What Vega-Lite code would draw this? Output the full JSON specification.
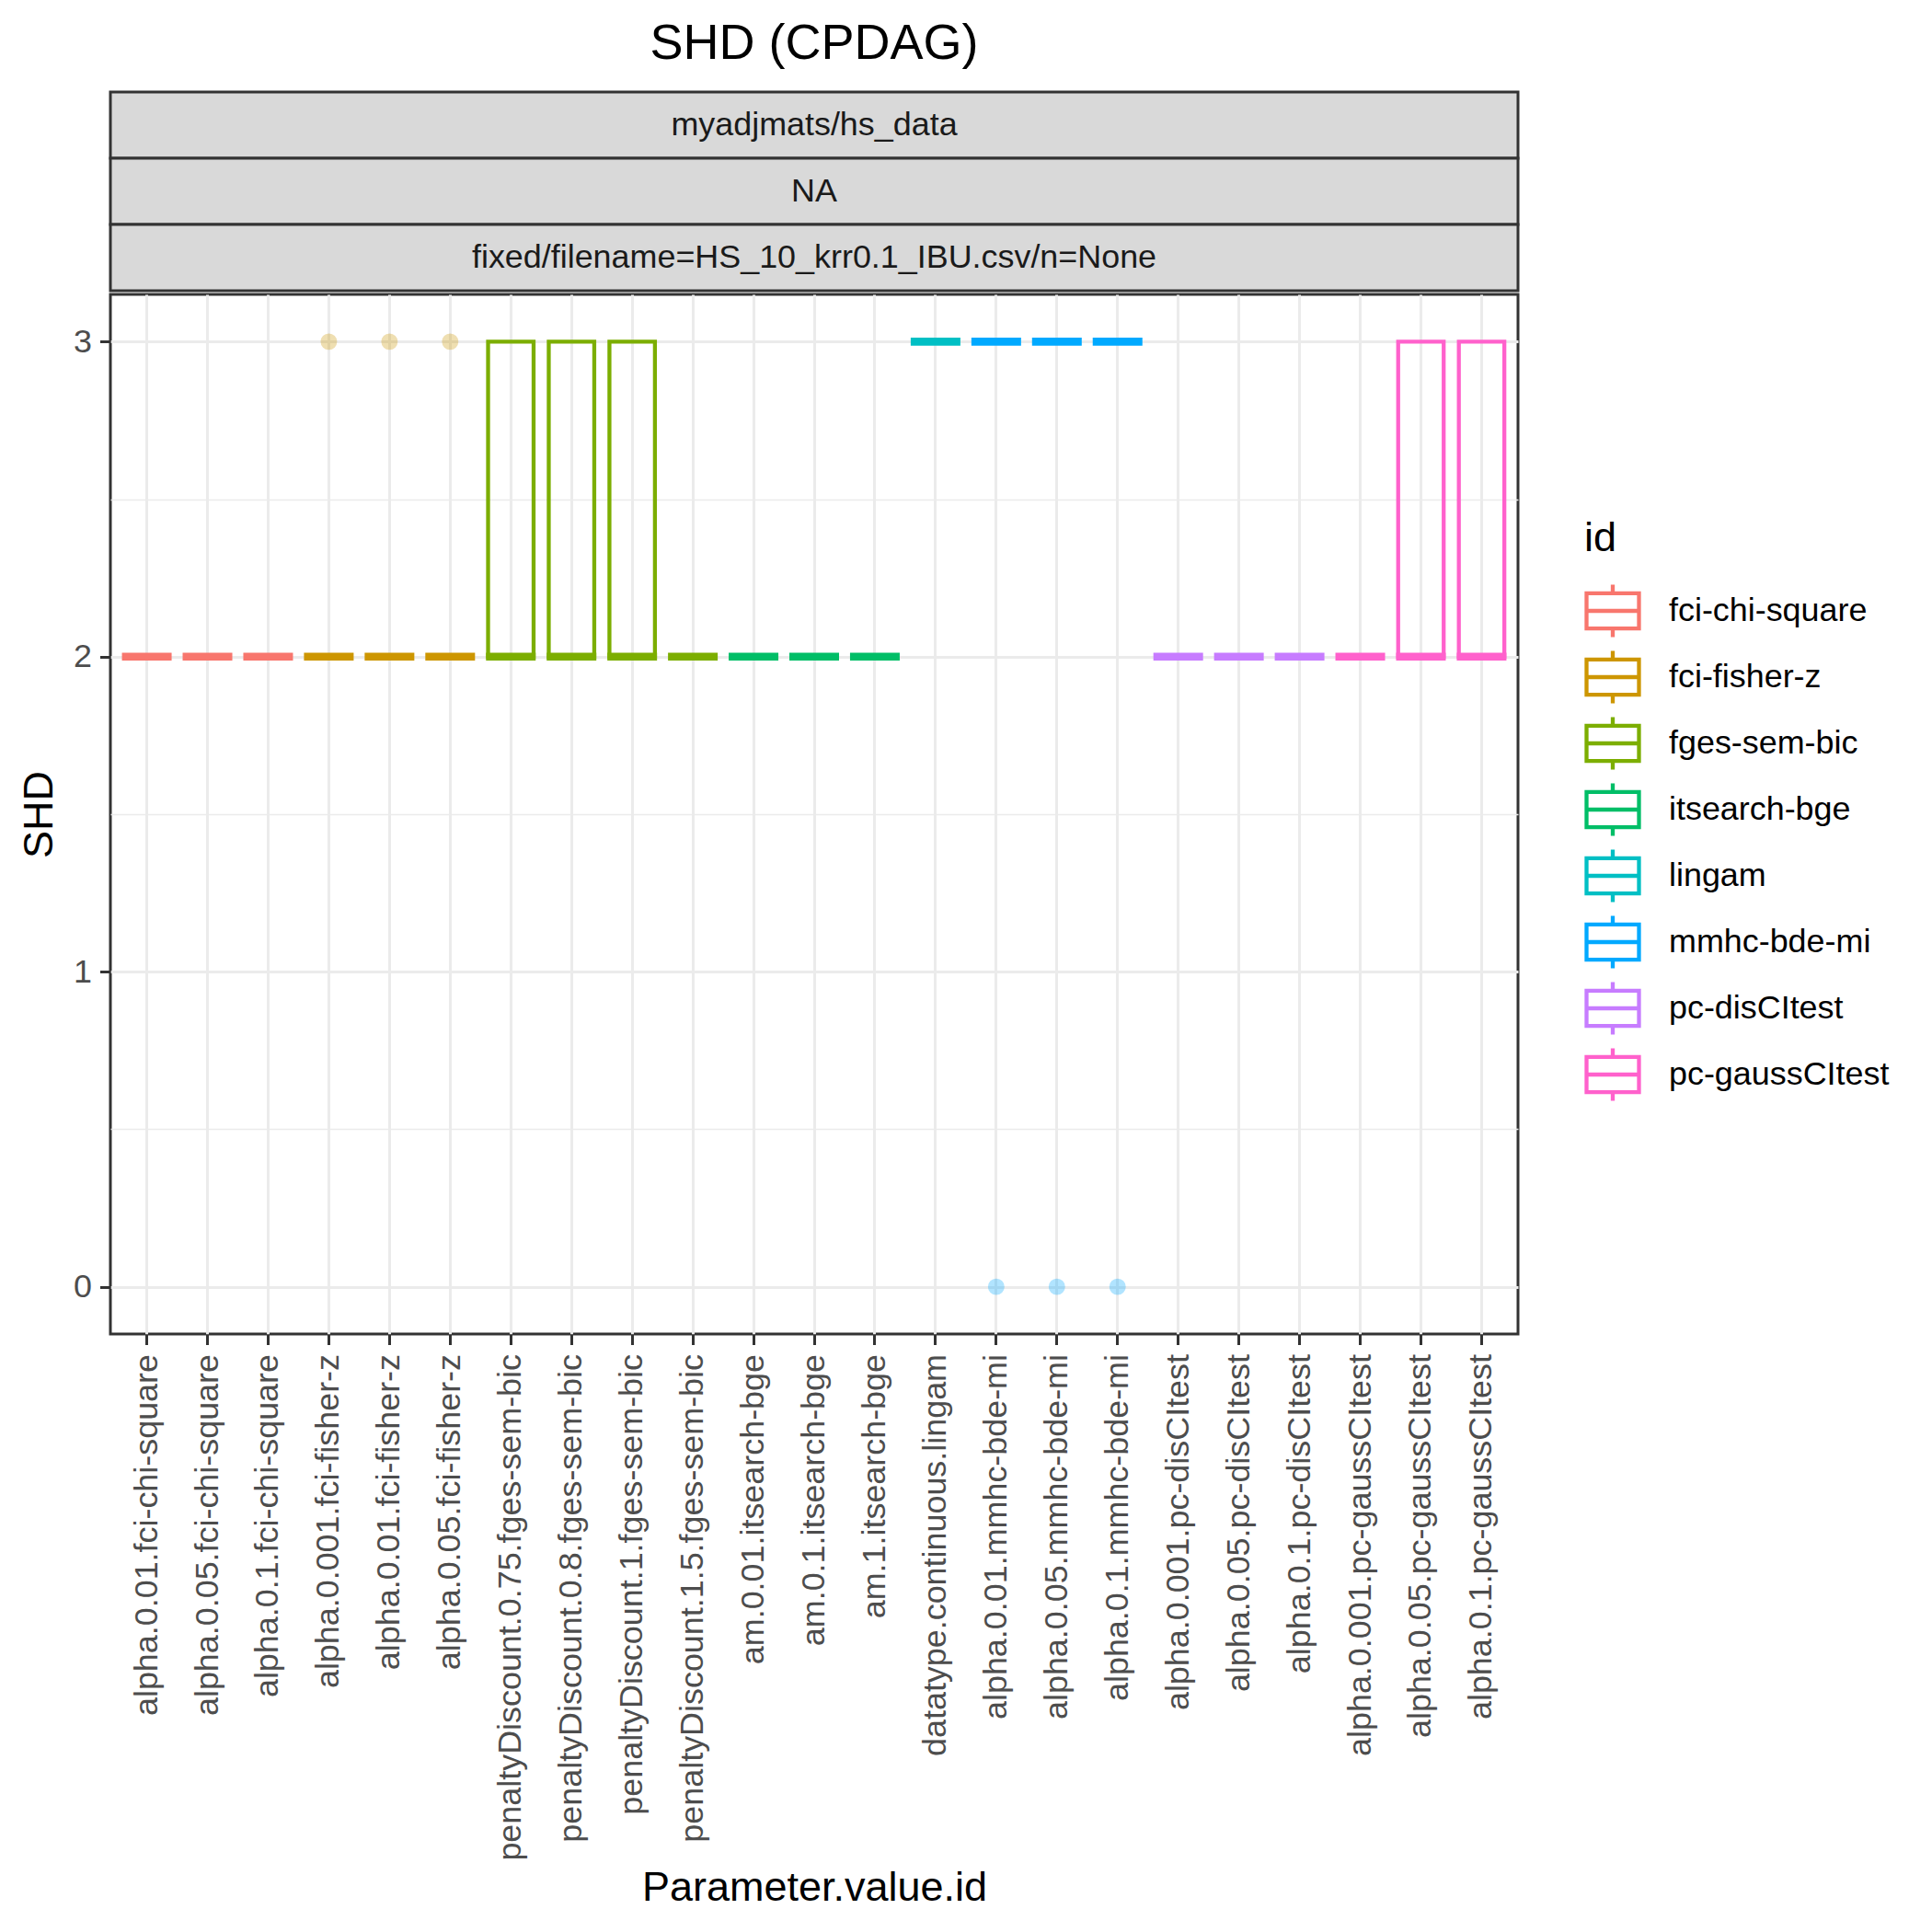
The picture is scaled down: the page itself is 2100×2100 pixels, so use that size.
{
  "$schema": "https://vega.github.io/schema/vega-lite/v6.json",
  "padding": {"left": 19, "top": 20, "right": 5, "bottom": 5},
  "background": "white",
  "config": {
    "font": "Liberation Sans",
    "view": {"stroke": null},
    "concat": {"spacing": 0}
  },
  "spacing": 0,
  "datasets": {
    "strips": [
      {"strip": "myadjmats/hs_data"},
      {"strip": "NA"},
      {"strip": "fixed/filename=HS_10_krr0.1_IBU.csv/n=None"}
    ],
    "shd": [
      {"param": "alpha.0.01.fci-chi-square", "id": "fci-chi-square", "SHD": 2},
      {"param": "alpha.0.01.fci-chi-square", "id": "fci-chi-square", "SHD": 2},
      {"param": "alpha.0.01.fci-chi-square", "id": "fci-chi-square", "SHD": 2},
      {"param": "alpha.0.01.fci-chi-square", "id": "fci-chi-square", "SHD": 2},
      {"param": "alpha.0.01.fci-chi-square", "id": "fci-chi-square", "SHD": 2},
      {"param": "alpha.0.05.fci-chi-square", "id": "fci-chi-square", "SHD": 2},
      {"param": "alpha.0.05.fci-chi-square", "id": "fci-chi-square", "SHD": 2},
      {"param": "alpha.0.05.fci-chi-square", "id": "fci-chi-square", "SHD": 2},
      {"param": "alpha.0.05.fci-chi-square", "id": "fci-chi-square", "SHD": 2},
      {"param": "alpha.0.05.fci-chi-square", "id": "fci-chi-square", "SHD": 2},
      {"param": "alpha.0.1.fci-chi-square", "id": "fci-chi-square", "SHD": 2},
      {"param": "alpha.0.1.fci-chi-square", "id": "fci-chi-square", "SHD": 2},
      {"param": "alpha.0.1.fci-chi-square", "id": "fci-chi-square", "SHD": 2},
      {"param": "alpha.0.1.fci-chi-square", "id": "fci-chi-square", "SHD": 2},
      {"param": "alpha.0.1.fci-chi-square", "id": "fci-chi-square", "SHD": 2},
      {"param": "alpha.0.001.fci-fisher-z", "id": "fci-fisher-z", "SHD": 2},
      {"param": "alpha.0.001.fci-fisher-z", "id": "fci-fisher-z", "SHD": 2},
      {"param": "alpha.0.001.fci-fisher-z", "id": "fci-fisher-z", "SHD": 2},
      {"param": "alpha.0.001.fci-fisher-z", "id": "fci-fisher-z", "SHD": 2},
      {"param": "alpha.0.001.fci-fisher-z", "id": "fci-fisher-z", "SHD": 3},
      {"param": "alpha.0.01.fci-fisher-z", "id": "fci-fisher-z", "SHD": 2},
      {"param": "alpha.0.01.fci-fisher-z", "id": "fci-fisher-z", "SHD": 2},
      {"param": "alpha.0.01.fci-fisher-z", "id": "fci-fisher-z", "SHD": 2},
      {"param": "alpha.0.01.fci-fisher-z", "id": "fci-fisher-z", "SHD": 2},
      {"param": "alpha.0.01.fci-fisher-z", "id": "fci-fisher-z", "SHD": 3},
      {"param": "alpha.0.05.fci-fisher-z", "id": "fci-fisher-z", "SHD": 2},
      {"param": "alpha.0.05.fci-fisher-z", "id": "fci-fisher-z", "SHD": 2},
      {"param": "alpha.0.05.fci-fisher-z", "id": "fci-fisher-z", "SHD": 2},
      {"param": "alpha.0.05.fci-fisher-z", "id": "fci-fisher-z", "SHD": 2},
      {"param": "alpha.0.05.fci-fisher-z", "id": "fci-fisher-z", "SHD": 3},
      {"param": "penaltyDiscount.0.75.fges-sem-bic", "id": "fges-sem-bic", "SHD": 2},
      {"param": "penaltyDiscount.0.75.fges-sem-bic", "id": "fges-sem-bic", "SHD": 2},
      {"param": "penaltyDiscount.0.75.fges-sem-bic", "id": "fges-sem-bic", "SHD": 2},
      {"param": "penaltyDiscount.0.75.fges-sem-bic", "id": "fges-sem-bic", "SHD": 3},
      {"param": "penaltyDiscount.0.75.fges-sem-bic", "id": "fges-sem-bic", "SHD": 3},
      {"param": "penaltyDiscount.0.8.fges-sem-bic", "id": "fges-sem-bic", "SHD": 2},
      {"param": "penaltyDiscount.0.8.fges-sem-bic", "id": "fges-sem-bic", "SHD": 2},
      {"param": "penaltyDiscount.0.8.fges-sem-bic", "id": "fges-sem-bic", "SHD": 2},
      {"param": "penaltyDiscount.0.8.fges-sem-bic", "id": "fges-sem-bic", "SHD": 3},
      {"param": "penaltyDiscount.0.8.fges-sem-bic", "id": "fges-sem-bic", "SHD": 3},
      {"param": "penaltyDiscount.1.fges-sem-bic", "id": "fges-sem-bic", "SHD": 2},
      {"param": "penaltyDiscount.1.fges-sem-bic", "id": "fges-sem-bic", "SHD": 2},
      {"param": "penaltyDiscount.1.fges-sem-bic", "id": "fges-sem-bic", "SHD": 2},
      {"param": "penaltyDiscount.1.fges-sem-bic", "id": "fges-sem-bic", "SHD": 3},
      {"param": "penaltyDiscount.1.fges-sem-bic", "id": "fges-sem-bic", "SHD": 3},
      {"param": "penaltyDiscount.1.5.fges-sem-bic", "id": "fges-sem-bic", "SHD": 2},
      {"param": "penaltyDiscount.1.5.fges-sem-bic", "id": "fges-sem-bic", "SHD": 2},
      {"param": "penaltyDiscount.1.5.fges-sem-bic", "id": "fges-sem-bic", "SHD": 2},
      {"param": "penaltyDiscount.1.5.fges-sem-bic", "id": "fges-sem-bic", "SHD": 2},
      {"param": "penaltyDiscount.1.5.fges-sem-bic", "id": "fges-sem-bic", "SHD": 2},
      {"param": "am.0.01.itsearch-bge", "id": "itsearch-bge", "SHD": 2},
      {"param": "am.0.01.itsearch-bge", "id": "itsearch-bge", "SHD": 2},
      {"param": "am.0.01.itsearch-bge", "id": "itsearch-bge", "SHD": 2},
      {"param": "am.0.01.itsearch-bge", "id": "itsearch-bge", "SHD": 2},
      {"param": "am.0.01.itsearch-bge", "id": "itsearch-bge", "SHD": 2},
      {"param": "am.0.1.itsearch-bge", "id": "itsearch-bge", "SHD": 2},
      {"param": "am.0.1.itsearch-bge", "id": "itsearch-bge", "SHD": 2},
      {"param": "am.0.1.itsearch-bge", "id": "itsearch-bge", "SHD": 2},
      {"param": "am.0.1.itsearch-bge", "id": "itsearch-bge", "SHD": 2},
      {"param": "am.0.1.itsearch-bge", "id": "itsearch-bge", "SHD": 2},
      {"param": "am.1.itsearch-bge", "id": "itsearch-bge", "SHD": 2},
      {"param": "am.1.itsearch-bge", "id": "itsearch-bge", "SHD": 2},
      {"param": "am.1.itsearch-bge", "id": "itsearch-bge", "SHD": 2},
      {"param": "am.1.itsearch-bge", "id": "itsearch-bge", "SHD": 2},
      {"param": "am.1.itsearch-bge", "id": "itsearch-bge", "SHD": 2},
      {"param": "datatype.continuous.lingam", "id": "lingam", "SHD": 3},
      {"param": "datatype.continuous.lingam", "id": "lingam", "SHD": 3},
      {"param": "datatype.continuous.lingam", "id": "lingam", "SHD": 3},
      {"param": "datatype.continuous.lingam", "id": "lingam", "SHD": 3},
      {"param": "datatype.continuous.lingam", "id": "lingam", "SHD": 3},
      {"param": "alpha.0.01.mmhc-bde-mi", "id": "mmhc-bde-mi", "SHD": 0},
      {"param": "alpha.0.01.mmhc-bde-mi", "id": "mmhc-bde-mi", "SHD": 3},
      {"param": "alpha.0.01.mmhc-bde-mi", "id": "mmhc-bde-mi", "SHD": 3},
      {"param": "alpha.0.01.mmhc-bde-mi", "id": "mmhc-bde-mi", "SHD": 3},
      {"param": "alpha.0.01.mmhc-bde-mi", "id": "mmhc-bde-mi", "SHD": 3},
      {"param": "alpha.0.05.mmhc-bde-mi", "id": "mmhc-bde-mi", "SHD": 0},
      {"param": "alpha.0.05.mmhc-bde-mi", "id": "mmhc-bde-mi", "SHD": 3},
      {"param": "alpha.0.05.mmhc-bde-mi", "id": "mmhc-bde-mi", "SHD": 3},
      {"param": "alpha.0.05.mmhc-bde-mi", "id": "mmhc-bde-mi", "SHD": 3},
      {"param": "alpha.0.05.mmhc-bde-mi", "id": "mmhc-bde-mi", "SHD": 3},
      {"param": "alpha.0.1.mmhc-bde-mi", "id": "mmhc-bde-mi", "SHD": 0},
      {"param": "alpha.0.1.mmhc-bde-mi", "id": "mmhc-bde-mi", "SHD": 3},
      {"param": "alpha.0.1.mmhc-bde-mi", "id": "mmhc-bde-mi", "SHD": 3},
      {"param": "alpha.0.1.mmhc-bde-mi", "id": "mmhc-bde-mi", "SHD": 3},
      {"param": "alpha.0.1.mmhc-bde-mi", "id": "mmhc-bde-mi", "SHD": 3},
      {"param": "alpha.0.001.pc-disCItest", "id": "pc-disCItest", "SHD": 2},
      {"param": "alpha.0.001.pc-disCItest", "id": "pc-disCItest", "SHD": 2},
      {"param": "alpha.0.001.pc-disCItest", "id": "pc-disCItest", "SHD": 2},
      {"param": "alpha.0.001.pc-disCItest", "id": "pc-disCItest", "SHD": 2},
      {"param": "alpha.0.001.pc-disCItest", "id": "pc-disCItest", "SHD": 2},
      {"param": "alpha.0.05.pc-disCItest", "id": "pc-disCItest", "SHD": 2},
      {"param": "alpha.0.05.pc-disCItest", "id": "pc-disCItest", "SHD": 2},
      {"param": "alpha.0.05.pc-disCItest", "id": "pc-disCItest", "SHD": 2},
      {"param": "alpha.0.05.pc-disCItest", "id": "pc-disCItest", "SHD": 2},
      {"param": "alpha.0.05.pc-disCItest", "id": "pc-disCItest", "SHD": 2},
      {"param": "alpha.0.1.pc-disCItest", "id": "pc-disCItest", "SHD": 2},
      {"param": "alpha.0.1.pc-disCItest", "id": "pc-disCItest", "SHD": 2},
      {"param": "alpha.0.1.pc-disCItest", "id": "pc-disCItest", "SHD": 2},
      {"param": "alpha.0.1.pc-disCItest", "id": "pc-disCItest", "SHD": 2},
      {"param": "alpha.0.1.pc-disCItest", "id": "pc-disCItest", "SHD": 2},
      {"param": "alpha.0.001.pc-gaussCItest", "id": "pc-gaussCItest", "SHD": 2},
      {"param": "alpha.0.001.pc-gaussCItest", "id": "pc-gaussCItest", "SHD": 2},
      {"param": "alpha.0.001.pc-gaussCItest", "id": "pc-gaussCItest", "SHD": 2},
      {"param": "alpha.0.001.pc-gaussCItest", "id": "pc-gaussCItest", "SHD": 2},
      {"param": "alpha.0.001.pc-gaussCItest", "id": "pc-gaussCItest", "SHD": 2},
      {"param": "alpha.0.05.pc-gaussCItest", "id": "pc-gaussCItest", "SHD": 2},
      {"param": "alpha.0.05.pc-gaussCItest", "id": "pc-gaussCItest", "SHD": 2},
      {"param": "alpha.0.05.pc-gaussCItest", "id": "pc-gaussCItest", "SHD": 2},
      {"param": "alpha.0.05.pc-gaussCItest", "id": "pc-gaussCItest", "SHD": 3},
      {"param": "alpha.0.05.pc-gaussCItest", "id": "pc-gaussCItest", "SHD": 3},
      {"param": "alpha.0.1.pc-gaussCItest", "id": "pc-gaussCItest", "SHD": 2},
      {"param": "alpha.0.1.pc-gaussCItest", "id": "pc-gaussCItest", "SHD": 2},
      {"param": "alpha.0.1.pc-gaussCItest", "id": "pc-gaussCItest", "SHD": 2},
      {"param": "alpha.0.1.pc-gaussCItest", "id": "pc-gaussCItest", "SHD": 3},
      {"param": "alpha.0.1.pc-gaussCItest", "id": "pc-gaussCItest", "SHD": 3}
    ]
  },
  "vconcat": [
    {
      "width": 1530,
      "height": 216,
      "title": {"text": "SHD (CPDAG)", "fontSize": 54, "fontWeight": "normal", "color": "black", "anchor": "middle", "frame": "group", "offset": 24},
      "data": {"name": "strips"},
      "encoding": {
        "y": {"field": "strip", "type": "nominal", "sort": null, "scale": {"paddingInner": 0, "paddingOuter": 0}, "axis": null}
      },
      "layer": [
        {"mark": {"type": "bar", "fill": "#D9D9D9", "stroke": "#333333", "strokeWidth": 3}},
        {"mark": {"type": "text", "fontSize": 35.9, "color": "#1A1A1A"}, "encoding": {"text": {"field": "strip"}}}
      ]
    },
    {
      "width": 1530,
      "height": 1130,
      "view": {"stroke": "#333333", "strokeWidth": 3},
      "data": {"name": "shd"},
      "encoding": {
        "x": {
          "field": "param", "type": "nominal", "title": "Parameter.value.id",
          "sort": ["alpha.0.01.fci-chi-square", "alpha.0.05.fci-chi-square", "alpha.0.1.fci-chi-square", "alpha.0.001.fci-fisher-z", "alpha.0.01.fci-fisher-z", "alpha.0.05.fci-fisher-z", "penaltyDiscount.0.75.fges-sem-bic", "penaltyDiscount.0.8.fges-sem-bic", "penaltyDiscount.1.fges-sem-bic", "penaltyDiscount.1.5.fges-sem-bic", "am.0.01.itsearch-bge", "am.0.1.itsearch-bge", "am.1.itsearch-bge", "datatype.continuous.lingam", "alpha.0.01.mmhc-bde-mi", "alpha.0.05.mmhc-bde-mi", "alpha.0.1.mmhc-bde-mi", "alpha.0.001.pc-disCItest", "alpha.0.05.pc-disCItest", "alpha.0.1.pc-disCItest", "alpha.0.001.pc-gaussCItest", "alpha.0.05.pc-gaussCItest", "alpha.0.1.pc-gaussCItest"],
          "scale": {"paddingInner": 0, "paddingOuter": 0.1},
          "axis": {
            "labelAngle": -90, "labelFontSize": 35.9, "labelColor": "#4D4D4D", "labelLimit": 1200, "labelPadding": 10,
            "tickColor": "#333333", "tickWidth": 3, "tickSize": 11.5, "domain": false,
            "grid": true, "gridColor": "#EBEBEB", "gridWidth": 3, "bandPosition": 0.5,
            "titleFontSize": 45, "titleFontWeight": "normal", "titleColor": "black",
            "titleBaseline": "alphabetic", "titleY": 615
          }
        }
      },
      "layer": [
        {
          "transform": [{"aggregate": [{"op": "q1", "field": "SHD", "as": "lo"}, {"op": "q3", "field": "SHD", "as": "hi"}], "groupby": ["param", "id"]}],
          "mark": {"type": "bar", "filled": false, "fill": "transparent", "strokeWidth": 4.3, "width": {"band": 0.75}},
          "encoding": {
            "y": {
              "field": "lo", "type": "quantitative", "title": "SHD",
              "scale": {"domain": [-0.15, 3.15], "nice": false, "zero": false},
              "axis": {
                "orient": "left", "values": [0, 1, 2, 3], "format": "d",
                "labelFontSize": 35.9, "labelColor": "#4D4D4D", "labelPadding": 9,
                "tickColor": "#333333", "tickWidth": 3, "tickSize": 11.5, "domain": false,
                "grid": true, "gridColor": "#EBEBEB", "gridWidth": 3,
                "titleFontSize": 45, "titleFontWeight": "normal", "titleColor": "black", "titlePadding": 14
              }
            },
            "y2": {"field": "hi"},
            "stroke": {
              "field": "id", "type": "nominal",
              "scale": {
                "domain": ["fci-chi-square", "fci-fisher-z", "fges-sem-bic", "itsearch-bge", "lingam", "mmhc-bde-mi", "pc-disCItest", "pc-gaussCItest"],
                "range": ["#F8766D", "#CD9600", "#7CAE00", "#00BE67", "#00BFC4", "#00A9FF", "#C77CFF", "#FF61CC"]
              },
              "legend": {
                "title": "id", "orient": "none", "legendX": 1602, "legendY": 243, "padding": 0,
                "titleFontSize": 45, "titleFontWeight": "normal", "titleColor": "black", "titlePadding": 25,
                "labelFontSize": 35.9, "labelColor": "black", "labelOffset": 30, "labelLimit": 1000,
                "symbolType": "M-1.075,-0.67H1.075 M-1.075,0.67H1.075 M-1,-0.67V0.67 M1,-0.67V0.67 M-1,0H1 M0,-0.67V-1 M0,0.67V1",
                "symbolSize": 3249, "symbolStrokeWidth": 4.3, "symbolFillColor": "transparent", "rowPadding": -4,
                "encode": {"symbols": {"fill": {"value": "transparent"}, "strokeWidth": {"value": 4.3}, "opacity": {"value": 1}}}
              }
            }
          }
        },
        {
          "transform": [{"aggregate": [{"op": "median", "field": "SHD", "as": "med"}], "groupby": ["param", "id"]}],
          "mark": {"type": "tick", "thickness": 8.6, "size": 54, "opacity": 1},
          "encoding": {
            "y": {
              "field": "med", "type": "quantitative",
              "axis": {"orient": "left", "values": [0.5, 1.5, 2.5], "grid": true, "gridColor": "#EBEBEB", "gridWidth": 1.5, "labels": false, "ticks": false, "domain": false, "title": null}
            },
            "color": {
              "field": "id", "type": "nominal", "legend": null,
              "scale": {
                "domain": ["fci-chi-square", "fci-fisher-z", "fges-sem-bic", "itsearch-bge", "lingam", "mmhc-bde-mi", "pc-disCItest", "pc-gaussCItest"],
                "range": ["#F8766D", "#CD9600", "#7CAE00", "#00BE67", "#00BFC4", "#00A9FF", "#C77CFF", "#FF61CC"]
              }
            }
          }
        },
        {
          "transform": [
            {"joinaggregate": [{"op": "q1", "field": "SHD", "as": "q1"}, {"op": "q3", "field": "SHD", "as": "q3"}], "groupby": ["param"]},
            {"filter": "datum.SHD > datum.q3 + 1.5 * (datum.q3 - datum.q1) || datum.SHD < datum.q1 - 1.5 * (datum.q3 - datum.q1)"}
          ],
          "mark": {"type": "point", "filled": false, "size": 270, "opacity": 0.3, "strokeWidth": 1.5},
          "encoding": {
            "y": {"field": "SHD", "type": "quantitative", "axis": null},
            "color": {"field": "id", "type": "nominal", "legend": null},
            "fill": {
              "field": "id", "type": "nominal", "legend": null,
              "scale": {
                "domain": ["fci-chi-square", "fci-fisher-z", "fges-sem-bic", "itsearch-bge", "lingam", "mmhc-bde-mi", "pc-disCItest", "pc-gaussCItest"],
                "range": ["#F8766D", "#CD9600", "#7CAE00", "#00BE67", "#00BFC4", "#00A9FF", "#C77CFF", "#FF61CC"]
              }
            }
          }
        }
      ],
      "resolve": {"axis": {"y": "independent"}}
    }
  ],
  "resolve": {"legend": {"stroke": "independent", "color": "independent", "fill": "independent"}}
}
